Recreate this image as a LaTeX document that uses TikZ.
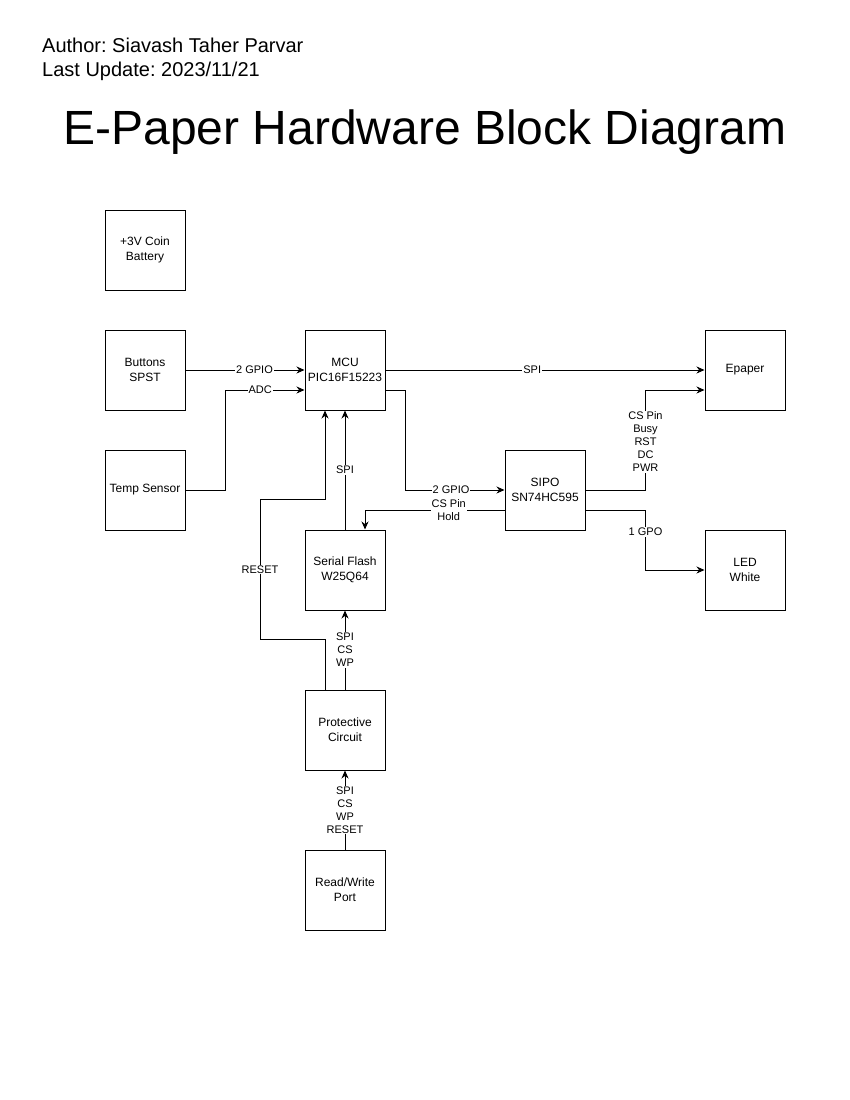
\documentclass[tikz,border=0pt]{standalone}
\usepackage{fontspec}
\setmainfont{Liberation Sans}
\usepackage{tikz}
\usetikzlibrary{arrows.meta}
\frenchspacing
\tikzstyle{block}=[rectangle,draw=black,fill=white,line width=1pt,minimum width=80pt,minimum height=80pt,inner sep=0pt,align=center,font=\fontsize{12}{15}\selectfont]
\tikzstyle{wire}=[draw=black,line width=1pt,-{Stealth[length=8pt,width=7pt]}]
\tikzstyle{tag}=[fill=white,inner sep=1pt,align=center,font=\fontsize{11}{13}\selectfont]

\begin{document}
\begin{tikzpicture}[x=1pt,y=-1pt]
  \useasboundingbox [fill=white] (0,0) rectangle (850,1100);
  \node at (42,37.5) [anchor=north west,inner sep=0pt,align=left,font=\fontsize{20}{24}\selectfont] (Author) {Author: Siavash Taher Parvar\\Last Update: 2023/11/21};
  \node at (425,144) [anchor=base,inner sep=0pt,font=\fontsize{48}{56}\selectfont] (Title) {E-Paper Hardware Block Diagram};
  \node at (145,250) [block] (Battery) {+3V Coin\\Battery};
  \node at (145,370) [block] (Buttons) {Buttons\\SPST};
  \node at (145,490) [block] (TempSensor) {Temp Sensor};
  \node at (345,370) [block] (MCU) {MCU\\PIC16F15223};
  \node at (745,370) [block] (Epaper) {Epaper};
  \node at (545,490) [block] (SIPO) {SIPO\\SN74HC595};
  \node at (745,570) [block] (LED) {LED\\White};
  \node at (345,570) [block] (SerialFlash) {Serial Flash\\W25Q64};
  \node at (345,730) [block] (Protective) {Protective\\Circuit};
  \node at (345,890) [block] (ReadWrite) {Read/Write\\Port};
  \draw [wire] (Buttons) -- node [tag,pos=0.58] {2 GPIO} (MCU);
  \draw [wire] (TempSensor.east) -- ++(40,0) |- node [tag,pos=0.72] {ADC} ([yshift=-20pt]MCU.west);
  \draw [wire] (MCU) -- node [tag,pos=0.46] {SPI} (Epaper);
  \draw [wire] ([yshift=-20pt]MCU.east) -- ++(20,0) |- node [tag,pos=0.73] {2 GPIO} (SIPO.west);
  \draw [wire] ([yshift=-20pt]SIPO.west) -| node [tag,pos=0.2] {CS Pin\\Hold} ([xshift=20pt]SerialFlash.north);
  \draw [wire] (SIPO.east) -- ++(60,0) |- node [tag,pos=0.24] {CS Pin\\Busy\\RST\\DC\\PWR} ([yshift=-20pt]Epaper.west);
  \draw [wire] ([yshift=-20pt]SIPO.east) -- ++(60,0) |- node [tag,pos=0.18] {1 GPO} (LED.west);
  \draw [wire] (SerialFlash) -- node [tag] {SPI} (MCU);
  \draw [wire] ([xshift=-20pt]Protective.north) -- ++(0,-50) -- ++(-65,0)
    -- node [tag] {RESET} ++(0,-140) -| ([xshift=-20pt]MCU.south);
  \draw [wire] (Protective) -- node [tag] {SPI\\CS\\WP} (SerialFlash);
  \draw [wire] (ReadWrite) -- node [tag] {SPI\\CS\\WP\\RESET} (Protective);
\end{tikzpicture}
\end{document}
